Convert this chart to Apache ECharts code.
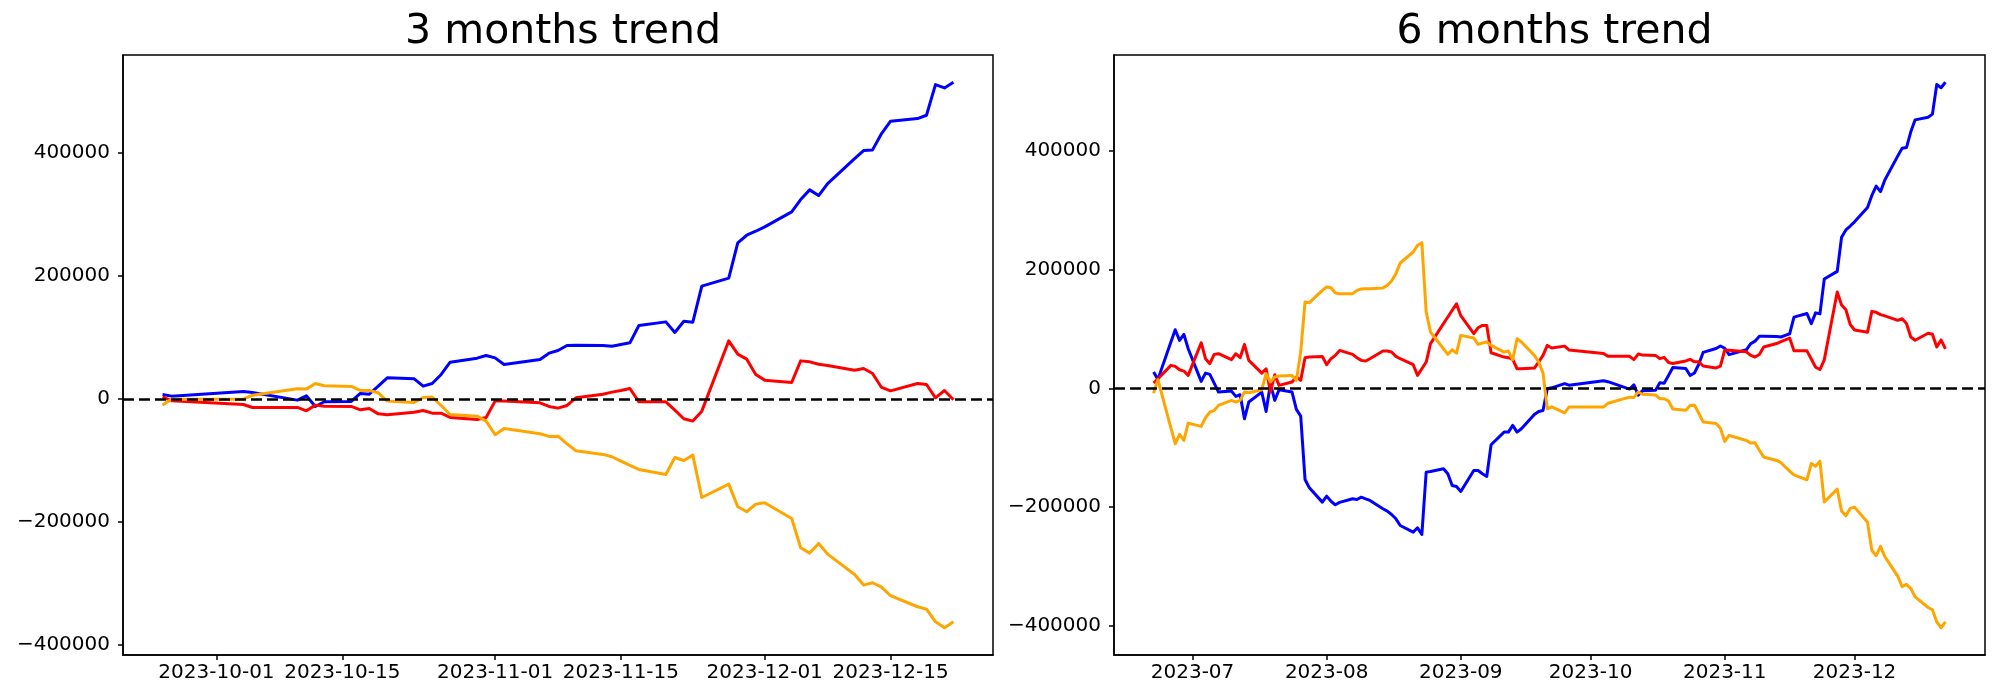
<!DOCTYPE html>
<html><head><meta charset="utf-8">
<script src="https://cdn.jsdelivr.net/npm/echarts@6/dist/echarts.min.js"></script>
<style>html,body{margin:0;padding:0;background:#fff}#c{width:2000px;height:700px}</style>
</head><body><div id="c"></div>
<script>
// ---------- 3 months chart data ----------
const leftDates = ['2023-09-25','2023-09-26','2023-10-04','2023-10-05','2023-10-10','2023-10-11','2023-10-12','2023-10-13','2023-10-16','2023-10-17','2023-10-18','2023-10-19','2023-10-20','2023-10-23','2023-10-24','2023-10-25','2023-10-26','2023-10-27','2023-10-30','2023-10-31','2023-11-01','2023-11-02','2023-11-06','2023-11-07','2023-11-08','2023-11-09','2023-11-10','2023-11-13','2023-11-14','2023-11-15','2023-11-16','2023-11-17','2023-11-20','2023-11-21','2023-11-22','2023-11-23','2023-11-24','2023-11-27','2023-11-28','2023-11-29','2023-11-30','2023-12-01','2023-12-04','2023-12-05','2023-12-06','2023-12-07','2023-12-08','2023-12-11','2023-12-12','2023-12-13','2023-12-14','2023-12-15','2023-12-18','2023-12-19','2023-12-20','2023-12-21','2023-12-22'];
const leftBlue = [7100,4400,12000,10300,-2100,4900,-12400,-4800,-4300,8700,7600,20600,34200,32500,20600,25000,39600,59600,66100,70400,66600,55800,64000,74200,78600,86700,87000,86500,85600,88300,91000,119100,125100,107900,126200,124600,183100,196100,253500,265900,272400,279500,303800,323900,339600,330400,349900,390500,403500,404600,431100,451200,455500,460900,510700,505300,514500];
const leftRed = [3200,-3200,-9200,-14000,-14000,-19500,-10200,-11900,-12400,-17900,-15700,-24400,-26000,-21700,-19000,-23300,-23300,-30300,-33500,-30300,-3700,-3700,-6400,-12400,-15100,-10800,1700,7600,10900,13600,16800,-4800,-4800,-18400,-32400,-36200,-20000,94300,72600,64500,39600,30400,26500,61700,60100,56300,54200,46600,49300,41200,18500,13000,24900,23300,1700,13600,-1600];
const leftOrange = [-10200,-500,-500,6000,16300,15800,25000,21200,20100,13600,13600,9800,-3700,-5900,2200,2800,-10800,-25400,-28100,-36200,-58400,-48100,-56800,-61100,-60600,-73100,-84400,-90300,-94100,-101300,-108300,-114700,-122900,-95300,-100200,-91500,-160300,-138600,-175400,-183500,-171100,-168900,-194400,-242000,-250700,-235000,-252300,-285400,-302700,-298900,-306000,-320000,-337900,-341700,-362300,-372000,-362300];
const leftTicks = ['2023-10-01','2023-10-15','2023-11-01','2023-11-15','2023-12-01','2023-12-15'];

// ---------- 6 months chart data ----------
const rightDates = ['2023-06-22','2023-06-23','2023-06-26','2023-06-27','2023-06-28','2023-06-29','2023-06-30','2023-07-03','2023-07-04','2023-07-05','2023-07-06','2023-07-07','2023-07-10','2023-07-11','2023-07-12','2023-07-13','2023-07-14','2023-07-17','2023-07-18','2023-07-19','2023-07-20','2023-07-21','2023-07-24','2023-07-25','2023-07-26','2023-07-27','2023-07-28','2023-07-31','2023-08-01','2023-08-02','2023-08-03','2023-08-04','2023-08-07','2023-08-08','2023-08-09','2023-08-10','2023-08-11','2023-08-14','2023-08-15','2023-08-16','2023-08-17','2023-08-18','2023-08-21','2023-08-22','2023-08-23','2023-08-24','2023-08-25','2023-08-28','2023-08-29','2023-08-30','2023-08-31','2023-09-01','2023-09-04','2023-09-05','2023-09-06','2023-09-07','2023-09-08','2023-09-11','2023-09-12','2023-09-13','2023-09-14','2023-09-15','2023-09-18','2023-09-19','2023-09-20','2023-09-21','2023-09-22',
'2023-09-25','2023-09-26','2023-10-04','2023-10-05','2023-10-10','2023-10-11','2023-10-12','2023-10-13','2023-10-16','2023-10-17','2023-10-18','2023-10-19','2023-10-20','2023-10-23','2023-10-24','2023-10-25','2023-10-26','2023-10-27','2023-10-30','2023-10-31','2023-11-01','2023-11-02','2023-11-06','2023-11-07','2023-11-08','2023-11-09','2023-11-10','2023-11-13','2023-11-14','2023-11-15','2023-11-16','2023-11-17','2023-11-20','2023-11-21','2023-11-22','2023-11-23','2023-11-24','2023-11-27','2023-11-28','2023-11-29','2023-11-30','2023-12-01','2023-12-04','2023-12-05','2023-12-06','2023-12-07','2023-12-08','2023-12-11','2023-12-12','2023-12-13','2023-12-14','2023-12-15','2023-12-18','2023-12-19','2023-12-20','2023-12-21','2023-12-22'];
const rightBlue = [27500,15200,78000,98800,80900,91000,66800,11800,25800,23600,9000,-6200,-4500,-13500,-10700,-51100,-23000,-6200,-38800,7900,-20200,-2200,-6200,-35400,-46600,-153300,-167400,-191500,-181400,-190000,-196000,-192000,-185900,-187000,-183100,-185900,-188700,-202700,-206700,-212300,-219600,-230800,-242100,-234700,-246000,-141000,-139800,-135300,-143800,-163400,-165100,-173500,-138200,-138200,-143800,-148300,-94900,-73600,-73600,-62300,-73600,-68000,-43800,-38800,-37100,-600,1000,
8100,5400,13000,11300,-1100,5900,-11400,-3800,-3300,9700,8600,21600,35200,33500,21600,26000,40600,60600,67100,71400,67600,56800,65000,75200,79600,87700,88000,87500,86600,89300,92000,120100,126100,108900,127200,125600,184100,197100,254500,266900,273400,280500,304800,324900,340600,331400,350900,391500,404500,405600,432100,452200,456500,461900,511700,506300,515500];
const rightRed = [9000,16300,38800,37100,31400,29200,21900,76900,50000,41600,57300,58400,48300,58400,51700,74100,47200,25800,33100,-6200,23000,5100,10700,19100,13500,51700,52800,53900,39900,50000,55600,64000,57300,51700,47200,46100,50000,62900,62900,61200,53900,50000,39900,21900,33100,44400,75300,109000,120200,131400,142600,122400,92100,102200,106100,106100,60100,52800,51700,48900,33100,33100,34300,44400,55600,72400,68000,
71200,64800,58800,54000,54000,48500,57800,56100,55600,50100,52300,43600,42000,46300,49000,44700,44700,37700,34500,37700,64300,64300,61600,55600,52900,57200,69700,75600,78900,81600,84800,63200,63200,49600,35600,31800,48000,162300,140600,132500,107600,98400,94500,129700,128100,124300,122200,114600,117300,109200,86500,81000,92900,91300,69700,81600,66400];
const rightOrange = [-7900,14600,-66300,-93200,-77500,-87600,-58400,-64000,-49400,-39900,-37100,-28600,-20200,-23000,-20200,-6200,-7300,-2200,24700,10700,19100,20800,21900,13500,61200,145500,144300,165100,170700,169600,160600,159500,159500,165100,167400,167900,167900,169000,173500,180800,193200,211200,229700,240900,245400,128600,94900,66800,57300,65100,59500,89300,84800,74100,76400,78100,72400,61200,62900,48300,83700,78100,55600,44400,25800,-34300,-31000,
-41200,-31500,-31500,-25000,-14700,-15200,-6000,-9800,-10900,-17400,-17400,-21200,-34700,-36900,-28800,-28200,-41800,-56400,-59100,-67200,-89400,-79100,-87800,-92100,-91600,-104100,-115400,-121300,-125100,-132300,-139300,-145700,-153900,-126300,-131200,-122500,-191300,-169600,-206400,-214500,-202100,-199900,-225400,-273000,-281700,-266000,-283300,-316400,-333700,-329900,-337000,-351000,-368900,-372700,-393300,-403000,-393300];
const rightTicks = ['2023-07','2023-08','2023-09','2023-10','2023-11','2023-12'];

const yTicks = [-400000,-200000,0,200000,400000];
const titles = ['3 months trend','6 months trend'];
const colors = {blue:'#0000ff', red:'#ff0000', orange:'#ffa500'};

// ---------- helpers ----------
function ts(s){const p=s.split('-').map(Number);return Date.UTC(p[0],p[1]-1,p[2]||1);}
function pad(n){return n<10?'0'+n:''+n;}
function fmtDay(v){const d=new Date(v);return d.getUTCFullYear()+'-'+pad(d.getUTCMonth()+1)+'-'+pad(d.getUTCDate());}
function fmtMonth(v){const d=new Date(v);return d.getUTCFullYear()+'-'+pad(d.getUTCMonth()+1);}
function yFmt(v){return v<0?'\u2212'+Math.abs(v):String(v);}
function pairs(dates,vals){return dates.map((d,i)=>[ts(d),vals[i]]);}
function xRange(dates){const a=ts(dates[0]),b=ts(dates[dates.length-1]);const m=(b-a)*0.05;return [a-m,b+m];}
function yRange(arrs){let lo=Infinity,hi=-Infinity;arrs.forEach(a=>a.forEach(v=>{if(v<lo)lo=v;if(v>hi)hi=v;}));const m=(hi-lo)*0.05;return [lo-m,hi+m];}

const FONT = 'DejaVu Sans';
const grids = [
  {left:123, right:1007, top:55, bottom:45},
  {left:1114, right:15, top:55, bottom:45}
];
const sets = [
  {dates:leftDates, b:leftBlue, r:leftRed, o:leftOrange, ticks:leftTicks, fmt:fmtDay},
  {dates:rightDates, b:rightBlue, r:rightRed, o:rightOrange, ticks:rightTicks, fmt:fmtMonth}
];

const option = {animation:false, backgroundColor:'#fff', title:[], grid:[], xAxis:[], yAxis:[], series:[]};
sets.forEach((s,i)=>{
  const g = grids[i];
  option.grid.push(Object.assign({show:true, borderColor:'#000', borderWidth:1.5, backgroundColor:'transparent'}, g));
  const cx = g.left + (2000 - g.left - g.right)/2;
  option.title.push({text:titles[i], left:cx, top:7, textAlign:'center',
    textStyle:{fontSize:41, fontWeight:'normal', fontFamily:FONT, color:'#000'}});
  const xr = xRange(s.dates), yr = yRange([s.b,s.r,s.o]);
  const xt = s.ticks.map(ts);
  option.xAxis.push({type:'value', gridIndex:i, min:xr[0], max:xr[1], splitLine:{show:false},
    axisLine:{show:true, onZero:false, lineStyle:{color:'#000', width:1.5}},
    axisTick:{show:true, length:5, customValues:xt, lineStyle:{color:'#000', width:1.5}},
    axisLabel:{customValues:xt, formatter:s.fmt, fontSize:20, fontFamily:FONT, color:'#000', margin:8, hideOverlap:false}});
  option.yAxis.push({type:'value', gridIndex:i, min:yr[0], max:yr[1], splitLine:{show:false},
    axisLine:{show:true, onZero:false, lineStyle:{color:'#000', width:1.5}},
    axisTick:{show:true, length:5, customValues:yTicks, lineStyle:{color:'#000', width:1.5}},
    axisLabel:{customValues:yTicks, formatter:yFmt, fontSize:20, fontFamily:FONT, color:'#000', margin:13}});
  [['b',colors.blue],['r',colors.red],['o',colors.orange]].forEach(([k,c],j)=>{
    const ser = {type:'line', xAxisIndex:i, yAxisIndex:i, data:pairs(s.dates,s[k]), showSymbol:false, symbol:'none',
      lineStyle:{color:c, width:3, join:'round'}, itemStyle:{color:c}, silent:true, z:2+j};
    if(j===2){
      ser.markLine = {silent:true, symbol:['none','none'], label:{show:false}, animation:false,
        lineStyle:{color:'#000', type:[11,5], width:2.5}, data:[{yAxis:0}]};
    }
    option.series.push(ser);
  });
});

const chart = echarts.init(document.getElementById('c'), null, {renderer:'canvas'});
chart.setOption(option);
</script>
</body></html>
